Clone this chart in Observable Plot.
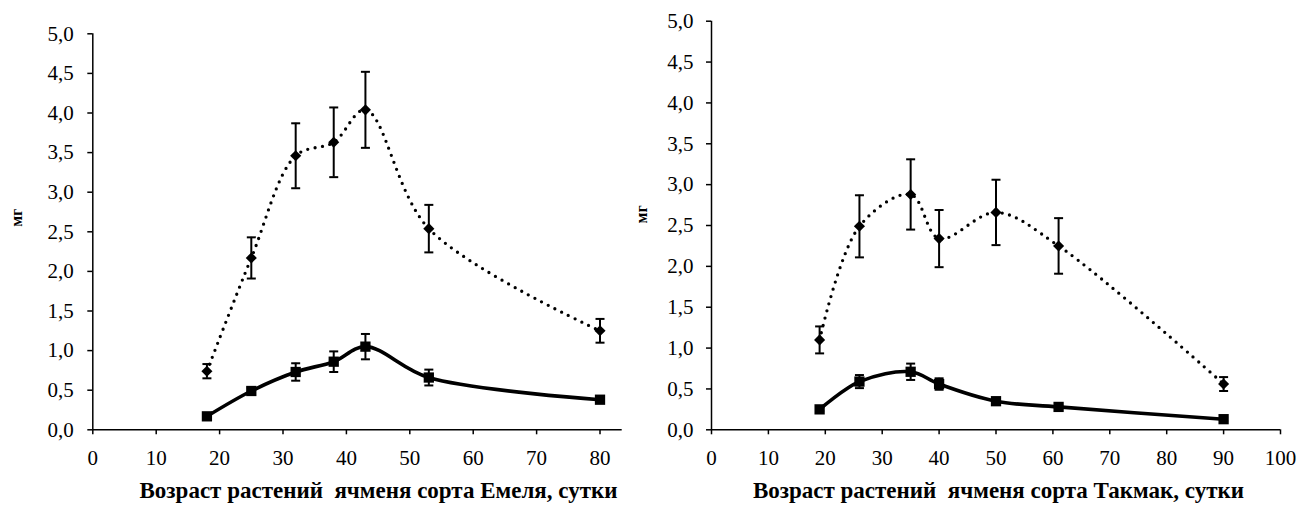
<!DOCTYPE html>
<html>
<head>
<meta charset="utf-8">
<script src="https://cdn.jsdelivr.net/npm/d3@7"></script>
<script src="https://cdn.jsdelivr.net/npm/@observablehq/plot@0.6"></script>
<style>
  body { margin: 0; background: #fff; }
  #wrap { position: relative; width: 1299px; height: 509px; overflow: hidden; background: #fff; }
  #left { position: absolute; left: 0; top: 0; }
  #right { position: absolute; left: 620px; top: 0; }
  #wrap svg, #wrap svg text, #wrap svg g { font-family: "Liberation Serif", "Times New Roman", serif !important; }
</style>
</head>
<body>
<div id="wrap"><div id="left"></div><div id="right"></div></div>
<script>
// ---- Data ----
const emelyaDays = [18, 25, 32, 38, 43, 53, 80];
const emelyaUpper = [0.74, 2.17, 3.46, 3.63, 4.04, 2.54, 1.25];
const emelyaUpperErr = [0.09, 0.26, 0.41, 0.44, 0.48, 0.30, 0.15];
const emelyaLower = [0.17, 0.49, 0.73, 0.86, 1.05, 0.66, 0.38];
const emelyaLowerErr = [0.02, 0.04, 0.11, 0.13, 0.16, 0.10, 0.03];

const takmakDays = [19, 26, 35, 40, 50, 61, 90];
const takmakUpper = [1.10, 2.49, 2.88, 2.34, 2.66, 2.25, 0.56];
const takmakUpperErr = [0.165, 0.38, 0.43, 0.35, 0.40, 0.34, 0.085];
const takmakLower = [0.25, 0.59, 0.71, 0.56, 0.35, 0.28, 0.13];
const takmakLowerErr = [0.02, 0.08, 0.10, 0.07, 0.03, 0.03, 0.02];

const yTicks = [0, 0.5, 1.0, 1.5, 2.0, 2.5, 3.0, 3.5, 4.0, 4.5, 5.0];
const xTicksLeft = [0, 10, 20, 30, 40, 50, 60, 70, 80];
const xTicksRight = [0, 10, 20, 30, 40, 50, 60, 70, 80, 90, 100];

const yLabel = "мг";
const xLabelLeft = "Возраст растений\u00a0 ячменя сорта Емеля, сутки";
const xLabelRight = "Возраст растений\u00a0 ячменя сорта Такмак, сутки";

// ---- helpers ----
const rows = (xs, vs, es) => xs.map((x, i) => ({x, v: vs[i], e: es[i]}));
const capSymbol = {
  draw(ctx) { ctx.moveTo(-4.5, 0); ctx.lineTo(4.5, 0); }
};
const FONT = "'Liberation Serif', 'Times New Roman', serif";

function chart(o) {
  const up = rows(o.days, o.upper, o.upperErr);
  const lo = rows(o.days, o.lower, o.lowerErr);
  const errMarks = (data) => [
    Plot.ruleX(data, {x: "x", y1: d => d.v - d.e, y2: d => d.v + d.e, stroke: "black", strokeWidth: 2}),
    Plot.dot(data, {x: "x", y: d => d.v + d.e, symbol: capSymbol, fill: "none", stroke: "black", strokeWidth: 2}),
    Plot.dot(data, {x: "x", y: d => d.v - d.e, symbol: capSymbol, fill: "none", stroke: "black", strokeWidth: 2})
  ];
  return Plot.plot({
    width: o.width,
    height: 509,
    marginLeft: o.ml,
    marginRight: o.mr,
    marginTop: o.mt,
    marginBottom: o.mb,
    style: {fontFamily: FONT, fontSize: "21px", color: "black", background: "transparent", overflow: "visible"},
    x: {domain: o.xDomain},
    y: {domain: [0, 5]},
    marks: [
      Plot.axisX({ticks: o.xTicks, tickSize: 5, tickPadding: 15, tickFormat: d => String(d), label: null, fontSize: 21, fontFamily: FONT, strokeWidth: 1.5}),
      Plot.axisY({ticks: yTicks, tickSize: 5, tickPadding: o.ytp, tickFormat: d => d.toFixed(1).replace(".", ","), label: null, fontSize: 21, fontFamily: FONT, strokeWidth: 1.5}),
      Plot.ruleX([0], {stroke: "black", strokeWidth: 1.5}),
      Plot.ruleY([0], {stroke: "black", strokeWidth: 1.5}),
      Plot.line(up, {x: "x", y: "v", curve: "catmull-rom", stroke: "black", strokeWidth: 3.3, strokeDasharray: "0 7.5", strokeLinecap: "round"}),
      Plot.line(lo, {x: "x", y: "v", curve: "catmull-rom", stroke: "black", strokeWidth: 3.6}),
      ...errMarks(up),
      ...errMarks(lo),
      Plot.dot(up, {x: "x", y: "v", symbol: "diamond2", r: 5, fill: "black", stroke: "none"}),
      Plot.dot(lo, {x: "x", y: "v", symbol: "square", r: 5.8, fill: "black", stroke: "none"}),
      Plot.text([o.yLabel], {frameAnchor: "left", dx: o.ydx, dy: o.ydy, rotate: -90, fontWeight: "bold", fontSize: 16, fontFamily: FONT, fill: "black"}),
      Plot.text([o.xLabel], {frameAnchor: "bottom", dx: o.xdx, dy: 67.7, fontWeight: "bold", fontSize: 23, fontFamily: FONT, fill: "black"})
    ]
  });
}

document.getElementById("left").append(chart({
  width: 625, ml: 92.3, mr: 3.3, mt: 33.3, mb: 79.7, ytp: 14,
  xDomain: [0, 83.5], xTicks: xTicksLeft,
  days: emelyaDays, upper: emelyaUpper, upperErr: emelyaUpperErr, lower: emelyaLower, lowerErr: emelyaLowerErr,
  yLabel, ydx: -76, ydy: -5, xLabel: xLabelLeft, xdx: 21
}));

document.getElementById("right").append(chart({
  width: 679, ml: 91, mr: 19, mt: 20.7, mb: 79.7, ytp: 13,
  xDomain: [0, 100], xTicks: xTicksRight,
  days: takmakDays, upper: takmakUpper, upperErr: takmakUpperErr, lower: takmakLower, lowerErr: takmakLowerErr,
  yLabel, ydx: -70, ydy: -2, xLabel: xLabelRight, xdx: 2.5
}));
</script>
</body>
</html>
